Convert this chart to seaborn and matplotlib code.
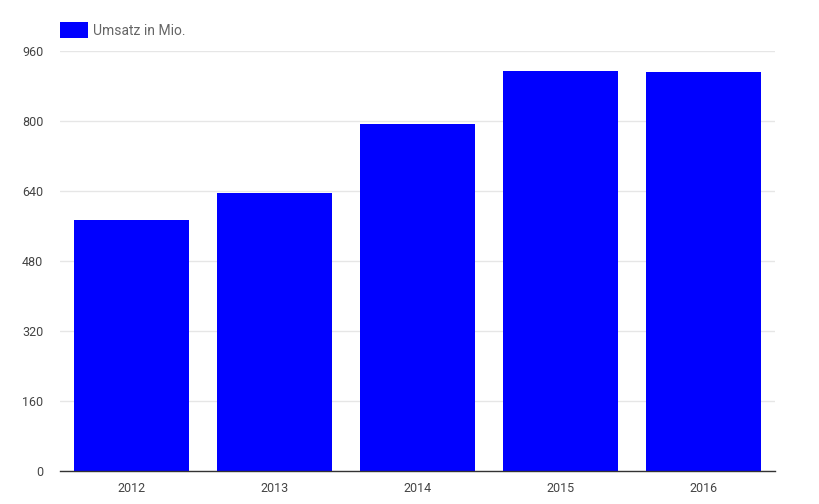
import pandas as pd
import seaborn as sns
import matplotlib.pyplot as plt

# values
years = ["2012", "2013", "2014", "2015", "2016"]
umsatz = [574, 636, 794, 915, 913]
yticks = [0, 160, 320, 480, 640, 800, 960]

df = pd.DataFrame({"Jahr": years, "Umsatz": umsatz})

sns.set_style("white")
plt.rcParams["font.family"] = ["Roboto", "DejaVu Sans"]

fig = plt.figure(figsize=(8.2, 5.04), dpi=100)
ax = fig.add_axes([60 / 820, 33 / 504, 715 / 820, 420 / 504])

sns.barplot(data=df, x="Jahr", y="Umsatz", color="#0000ff", saturation=1,
            width=0.8, label="Umsatz in Mio.", linewidth=0, edgecolor="none",
            ax=ax)

ax.set_ylim(0, 960)
ax.set_xlim(-0.5, 4.5)
ax.set_yticks(yticks)
ax.set_yticklabels([str(t) for t in yticks])
ax.grid(axis="y", color="#e6e6e6", linewidth=1)
ax.set_axisbelow(True)
for s in ["top", "right", "left"]:
    ax.spines[s].set_visible(False)
ax.spines["bottom"].set_color("#333333")
ax.spines["bottom"].set_linewidth(1)
ax.tick_params(axis="both", length=0, labelsize=9, labelcolor="#444444")
ax.tick_params(axis="y", pad=12)
ax.tick_params(axis="x", pad=8)
ax.set_xlabel("")
ax.set_ylabel("")

ax.legend(loc="center left", bbox_to_anchor=(60 / 820, 1 - 30 / 504),
          bbox_transform=fig.transFigure, frameon=False, fontsize=10,
          handlelength=2.0, handleheight=1.4, handletextpad=0.4,
          borderpad=0, borderaxespad=0, labelcolor="#666666")

fig.savefig("out.png", dpi=100)
